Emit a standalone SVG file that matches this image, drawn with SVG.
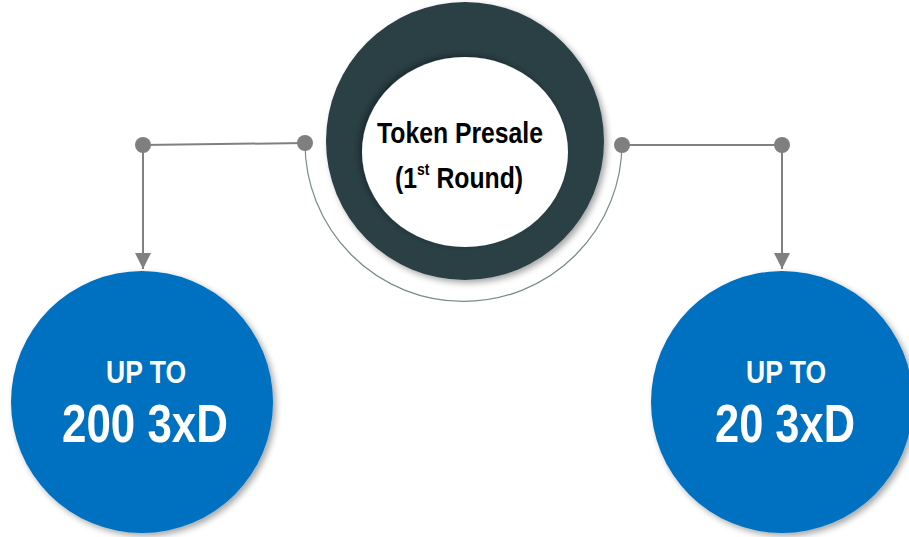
<svg xmlns="http://www.w3.org/2000/svg" width="909" height="537" viewBox="0 0 909 537">
<defs>
<style>
.conn{stroke:#808080;stroke-width:2;fill:none}
.dot{fill:#7f7f7f}
.arc{stroke:#7a8a8c;stroke-width:1.2;fill:none}
.blue{fill:#0070c0}
.wt{fill:#ffffff;font-family:"Liberation Sans",Arial,sans-serif;font-weight:bold;text-anchor:middle}
.bt{fill:#000000;font-family:"Liberation Sans",Arial,sans-serif;font-weight:bold}
</style>
<filter id="sh" x="-20%" y="-20%" width="140%" height="140%">
<feDropShadow dx="3" dy="3" stdDeviation="3" flood-color="#000" flood-opacity="0.35"/>
</filter>
<filter id="sh2" x="-20%" y="-20%" width="140%" height="140%">
<feDropShadow dx="-3" dy="-2" stdDeviation="3" flood-color="#000" flood-opacity="0.35"/>
</filter>
<marker id="arr" viewBox="0 0 16 16" refX="16" refY="8" markerWidth="16" markerHeight="16" markerUnits="userSpaceOnUse" orient="auto">
<path d="M0,0 L16,8 L0,16 Z" fill="#808080"/>
</marker>
</defs>
<rect width="909" height="537" fill="#ffffff"/>
<g id="connectors">
<path class="arc" d="M305,143 A158.5,158.5 0 0 0 622,143"/>
<line class="conn" x1="143" y1="145" x2="305" y2="143"/>
<line class="conn" x1="143" y1="145" x2="143" y2="269" marker-end="url(#arr)"/>
<line class="conn" x1="622" y1="145" x2="782" y2="145"/>
<line class="conn" x1="782" y1="145" x2="782" y2="269" marker-end="url(#arr)"/>
<circle class="dot" cx="143" cy="145" r="8"/>
<circle class="dot" cx="305" cy="143" r="8"/>
<circle class="dot" cx="622" cy="145" r="8"/>
<circle class="dot" cx="782" cy="145" r="8"/>
</g>
<g id="presale">
<circle cx="465" cy="141" r="139" fill="#2b3f45" filter="url(#sh)"/>
<ellipse cx="465" cy="152" rx="103" ry="95" fill="#ffffff" filter="url(#sh2)"/>
<text class="bt" x="377" y="143" font-size="30" textLength="166" lengthAdjust="spacingAndGlyphs">Token Presale</text>
<text class="bt" transform="translate(395,188) scale(0.826,1)" x="0" y="0" font-size="30">(1<tspan font-size="17" dy="-13">st</tspan><tspan dy="13"> Round)</tspan></text>
</g>
<g id="left">
<circle class="blue" cx="142" cy="402" r="131" filter="url(#sh)"/>
<text class="wt" x="146" y="383" font-size="32" textLength="80" lengthAdjust="spacingAndGlyphs">UP TO</text>
<text class="wt" x="145" y="442" font-size="54" textLength="166" lengthAdjust="spacingAndGlyphs">200 3xD</text>
</g>
<g id="right">
<circle class="blue" cx="782" cy="402" r="131" filter="url(#sh)"/>
<text class="wt" x="786" y="383" font-size="32" textLength="80" lengthAdjust="spacingAndGlyphs">UP TO</text>
<text class="wt" x="785" y="442" font-size="54" textLength="140" lengthAdjust="spacingAndGlyphs">20 3xD</text>
</g>
</svg>
